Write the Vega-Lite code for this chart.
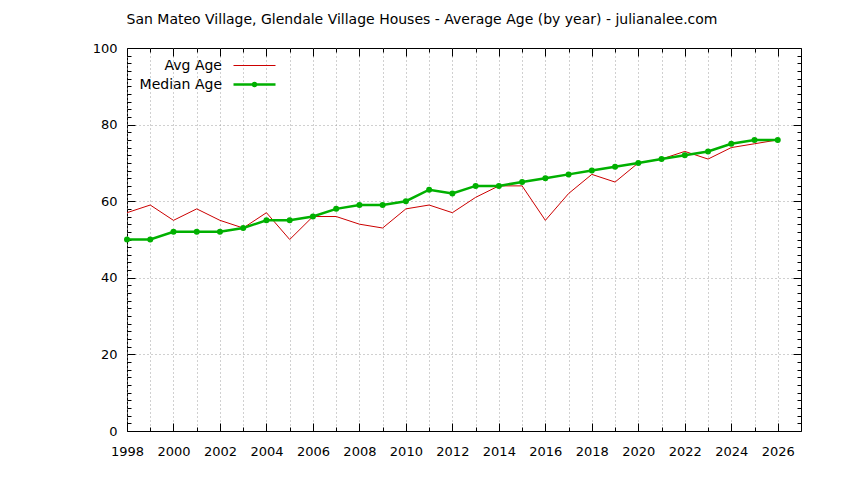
{
  "$schema": "https://vega.github.io/schema/vega-lite/v6.json",
  "width": 674,
  "height": 383,
  "autosize": {"type": "none"},
  "padding": {"left": 127, "top": 48, "right": 43, "bottom": 49},
  "background": "white",
  "title": {
    "text": "San Mateo Village, Glendale Village Houses - Average Age (by year) - julianalee.com",
    "font": "DejaVu Sans",
    "fontSize": 14,
    "fontWeight": "normal",
    "color": "#000000",
    "anchor": "middle",
    "dx": -42,
    "offset": 15
  },
  "config": {
    "view": {"stroke": "#000000", "strokeWidth": 1},
    "axis": {
      "labelFont": "DejaVu Sans",
      "labelFontSize": 13,
      "labelColor": "#000000",
      "domain": false,
      "tickColor": "#000000",
      "tickWidth": 1,
      "gridColor": "#a0a0a0",
      "gridDash": [1, 3],
      "gridWidth": 1,
      "title": null
    },
    "legend": {
      "orient": "none",
      "legendX": 115.5,
      "legendY": 6.5,
      "labelFont": "DejaVu Sans",
      "labelFontSize": 14,
      "labelColor": "#000000",
      "labelAlign": "right",
      "labelOffset": -44.5,
      "symbolSize": 441,
      "rowPadding": 0,
      "symbolType": "stroke",
      "symbolStrokeWidth": 2
    }
  },
  "data": {
    "values": [
      {"year": 1998, "series": "Avg Age", "value": 57},
      {"year": 1999, "series": "Avg Age", "value": 59},
      {"year": 2000, "series": "Avg Age", "value": 55},
      {"year": 2001, "series": "Avg Age", "value": 58},
      {"year": 2002, "series": "Avg Age", "value": 55},
      {"year": 2003, "series": "Avg Age", "value": 53},
      {"year": 2004, "series": "Avg Age", "value": 57},
      {"year": 2005, "series": "Avg Age", "value": 50},
      {"year": 2006, "series": "Avg Age", "value": 56},
      {"year": 2007, "series": "Avg Age", "value": 56},
      {"year": 2008, "series": "Avg Age", "value": 54},
      {"year": 2009, "series": "Avg Age", "value": 53},
      {"year": 2010, "series": "Avg Age", "value": 58},
      {"year": 2011, "series": "Avg Age", "value": 59},
      {"year": 2012, "series": "Avg Age", "value": 57},
      {"year": 2013, "series": "Avg Age", "value": 61},
      {"year": 2014, "series": "Avg Age", "value": 64},
      {"year": 2015, "series": "Avg Age", "value": 64},
      {"year": 2016, "series": "Avg Age", "value": 55},
      {"year": 2017, "series": "Avg Age", "value": 62},
      {"year": 2018, "series": "Avg Age", "value": 67},
      {"year": 2019, "series": "Avg Age", "value": 65},
      {"year": 2020, "series": "Avg Age", "value": 70},
      {"year": 2021, "series": "Avg Age", "value": 71},
      {"year": 2022, "series": "Avg Age", "value": 73},
      {"year": 2023, "series": "Avg Age", "value": 71},
      {"year": 2024, "series": "Avg Age", "value": 74},
      {"year": 2025, "series": "Avg Age", "value": 75},
      {"year": 2026, "series": "Avg Age", "value": 76},
      {"year": 1998, "series": "Median Age", "value": 50},
      {"year": 1999, "series": "Median Age", "value": 50},
      {"year": 2000, "series": "Median Age", "value": 52},
      {"year": 2001, "series": "Median Age", "value": 52},
      {"year": 2002, "series": "Median Age", "value": 52},
      {"year": 2003, "series": "Median Age", "value": 53},
      {"year": 2004, "series": "Median Age", "value": 55},
      {"year": 2005, "series": "Median Age", "value": 55},
      {"year": 2006, "series": "Median Age", "value": 56},
      {"year": 2007, "series": "Median Age", "value": 58},
      {"year": 2008, "series": "Median Age", "value": 59},
      {"year": 2009, "series": "Median Age", "value": 59},
      {"year": 2010, "series": "Median Age", "value": 60},
      {"year": 2011, "series": "Median Age", "value": 63},
      {"year": 2012, "series": "Median Age", "value": 62},
      {"year": 2013, "series": "Median Age", "value": 64},
      {"year": 2014, "series": "Median Age", "value": 64},
      {"year": 2015, "series": "Median Age", "value": 65},
      {"year": 2016, "series": "Median Age", "value": 66},
      {"year": 2017, "series": "Median Age", "value": 67},
      {"year": 2018, "series": "Median Age", "value": 68},
      {"year": 2019, "series": "Median Age", "value": 69},
      {"year": 2020, "series": "Median Age", "value": 70},
      {"year": 2021, "series": "Median Age", "value": 71},
      {"year": 2022, "series": "Median Age", "value": 72},
      {"year": 2023, "series": "Median Age", "value": 73},
      {"year": 2024, "series": "Median Age", "value": 75},
      {"year": 2025, "series": "Median Age", "value": 76},
      {"year": 2026, "series": "Median Age", "value": 76}
    ]
  },
  "layer": [
    {
      "mark": {"type": "line", "clip": true},
      "encoding": {
        "x": {
          "field": "year",
          "type": "quantitative",
          "scale": {"domain": [1998, 2027], "nice": false, "zero": false},
          "axis": {
            "orient": "bottom",
            "values": [1998,1999,2000,2001,2002,2003,2004,2005,2006,2007,2008,2009,2010,2011,2012,2013,2014,2015,2016,2017,2018,2019,2020,2021,2022,2023,2024,2025,2026],
            "format": "d",
            "labelExpr": "datum.value % 2 === 0 ? datum.label : ''",
            "tickSize": {"condition": {"test": "datum.value % 2 === 0", "value": -8}, "value": -4},
            "labelPadding": 22,
            "labelFlush": false,
            "labelOverlap": false,
            "grid": true
          }
        },
        "y": {
          "field": "value",
          "type": "quantitative",
          "scale": {"domain": [0, 100], "nice": false},
          "axis": {
            "orient": "left",
            "values": [0,2,4,6,8,10,12,14,16,18,20,22,24,26,28,30,32,34,36,38,40,42,44,46,48,50,52,54,56,58,60,62,64,66,68,70,72,74,76,78,80,82,84,86,88,90,92,94,96,98,100],
            "labelExpr": "datum.value % 20 === 0 ? datum.label : ''",
            "tickSize": {"condition": {"test": "datum.value % 20 === 0", "value": -8}, "value": -4},
            "labelPadding": 18,
            "labelFlush": false,
            "labelOverlap": false,
            "grid": true,
            "gridOpacity": {"condition": {"test": "datum.value % 20 === 0 && datum.value > 0 && datum.value < 100", "value": 1}, "value": 0}
          }
        },
        "color": {
          "field": "series",
          "type": "nominal",
          "scale": {"domain": ["Avg Age", "Median Age"], "range": ["#cc0000", "#00b000"]},
          "legend": {
            "title": null,
            "encode": {
              "symbols": {
                "update": {
                  "shape": {"signal": "datum.value === 'Median Age' ? 'M-2,0H2M0.14,0A0.14,0.14 0 1,1 -0.14,0A0.14,0.14 0 1,1 0.14,0' : 'M-2,0H2'"},
                  "fill": {"signal": "datum.value === 'Median Age' ? '#00b000' : 'transparent'"}
                }
              }
            }
          }
        },
        "strokeWidth": {
          "field": "series",
          "type": "nominal",
          "scale": {"domain": ["Avg Age", "Median Age"], "range": [1, 2.5]},
          "legend": null
        }
      }
    },
    {
      "transform": [{"filter": "datum.series === 'Median Age'"}],
      "mark": {"type": "point", "filled": true, "opacity": 1, "size": 36},
      "encoding": {
        "x": {
          "field": "year",
          "type": "quantitative",
          "axis": {
            "orient": "top",
            "values": [1998,1999,2000,2001,2002,2003,2004,2005,2006,2007,2008,2009,2010,2011,2012,2013,2014,2015,2016,2017,2018,2019,2020,2021,2022,2023,2024,2025,2026],
            "labels": false,
            "grid": false,
            "tickSize": {"condition": {"test": "datum.value % 2 === 0", "value": -8}, "value": -4}
          }
        },
        "y": {
          "field": "value",
          "type": "quantitative",
          "axis": {
            "orient": "right",
            "values": [0,2,4,6,8,10,12,14,16,18,20,22,24,26,28,30,32,34,36,38,40,42,44,46,48,50,52,54,56,58,60,62,64,66,68,70,72,74,76,78,80,82,84,86,88,90,92,94,96,98,100],
            "labels": false,
            "grid": false,
            "tickSize": {"condition": {"test": "datum.value % 20 === 0", "value": -8}, "value": -4}
          }
        },
        "color": {"field": "series", "type": "nominal"}
      }
    }
  ],
  "resolve": {"axis": {"x": "independent", "y": "independent"}}
}
